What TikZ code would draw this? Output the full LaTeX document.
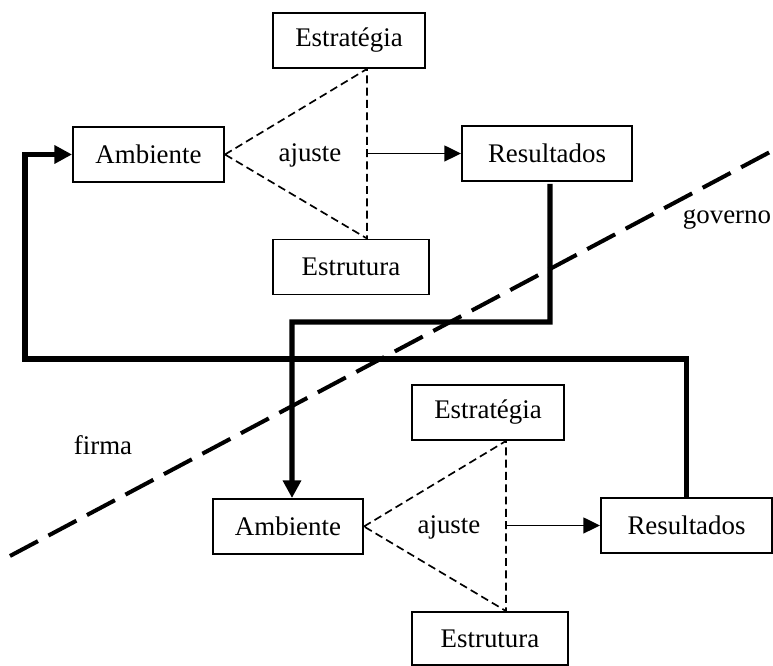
\documentclass[tikz,border=0pt]{standalone}
\usepackage{fontspec}
\setmainfont{Liberation Serif}
\usetikzlibrary{arrows.meta}

\tikzset{
  box/.style={draw, line width=1.1pt, minimum height=1.1cm, inner sep=0pt},
  fitline/.style={line width=0.95pt, dash pattern=on 4.5pt off 2.5pt},
  thin flow/.style={line width=1.1pt, -{Triangle[length=9.5pt,width=9pt]}},
  thick flow/.style={line width=3.1pt, -{Triangle[length=10pt,width=10pt]}},
  divide/.style={line width=2.3pt, dash pattern=on 18pt off 6.8pt}
}

\begin{document}
\begin{tikzpicture}[font=\fontsize{15.3}{18}\selectfont]
      \useasboundingbox (0,0) rectangle (15.46,13.32);
      % governo
      \node[box, minimum width=3.04cm] (estr1) at (6.98,12.51) {Estratégia};
      \node[box, minimum width=3.02cm] (amb1) at (2.97,10.23) {Ambiente};
      \node[box, minimum width=3.12cm] (estu1) at (7.02,7.98) {Estrutura};
      \node[box, minimum width=3.40cm] (res1) at (10.94,10.25) {Resultados};
      \node (aj1) at (6.2,10.22) {ajuste};
      \coordinate (t1) at (7.34,0 |- estr1.south);
      \coordinate (b1) at (7.34,0 |- estu1.north);
      \coordinate (m1) at (7.34,0 |- res1.west);
      \draw[fitline] (amb1.east) -- (t1) -- (b1) -- cycle;
      \draw[thin flow] (m1) -- (res1.west);
      % firma
      \node[box, minimum width=3.04cm] (estr2) at (9.76,5.07) {Estratégia};
      \node[box, minimum width=3.00cm] (amb2) at (5.76,2.79) {Ambiente};
      \node[box, minimum width=3.12cm, minimum height=1.06cm] (estu2) at (9.80,0.55) {Estrutura};
      \node[box, minimum width=3.42cm] (res2) at (13.73,2.81) {Resultados};
      \node (aj2) at (8.98,2.78) {ajuste};
      \coordinate (t2) at (10.12,0 |- estr2.south);
      \coordinate (b2) at (10.12,0 |- estu2.north);
      \coordinate (m2) at (10.12,0 |- res2.west);
      \draw[fitline] (amb2.east) -- (t2) -- (b2) -- cycle;
      \draw[thin flow] (m2) -- (res2.west);
      % ligacoes entre os niveis
      \draw[thick flow] ([xshift=0.06cm,yshift=-0.04cm]res1.south) -- (11.0,6.88) -| ([xshift=0.08cm]amb2.north);
      \draw[thick flow] (res2.north) |- (0.5,6.14) |- (amb1.west);
      % fronteira
      \coordinate (d1) at (0.2,2.2);
      \coordinate (d2) at (15.4,10.28);
      \draw[divide] (d1) -- (d2);
      \node (gov) at (14.54,8.92) {governo};
      \node (fir) at (2.06,4.42) {firma};
    \end{tikzpicture}
\end{document}
